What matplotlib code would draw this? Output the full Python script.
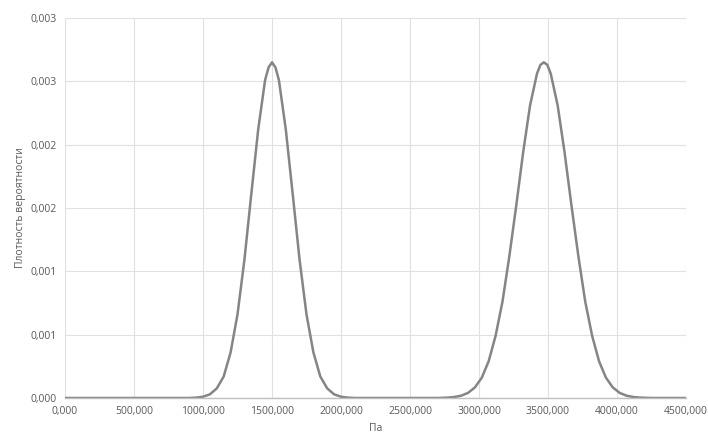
import matplotlib
matplotlib.use("Agg")
import matplotlib.pyplot as plt

# значения (Па -> плотность вероятности)
pa = [0, 500, 900, 950, 1000, 1050, 1100, 1150, 1200, 1250, 1300, 1350, 1400, 1450,
      1475, 1500, 1525, 1550, 1600, 1650, 1700, 1750, 1800, 1850, 1900, 1950, 2000,
      2050, 2100, 2500, 2700, 2770, 2820, 2870, 2920, 2970, 3020, 3070, 3120, 3170,
      3220, 3270, 3320, 3370, 3420, 3445, 3470, 3495, 3520, 3570, 3620, 3670, 3720,
      3770, 3820, 3870, 3920, 3970, 4020, 4070, 4120, 4170, 4250, 4500]
density = [0, 0, 0, 0.000003, 0.00001, 0.000029, 0.000076, 0.00017, 0.00036, 0.00066,
           0.00109, 0.00161, 0.00212, 0.00251, 0.00261, 0.00265, 0.00261, 0.00251,
           0.00212, 0.00161, 0.00109, 0.00066, 0.00036, 0.00017, 0.000076, 0.000029,
           0.00001, 0.000003, 0, 0, 0, 0.000003, 0.0000076, 0.000018, 0.00004, 0.000083,
           0.00016, 0.00029, 0.00049, 0.00076, 0.00112, 0.00152, 0.00194, 0.00231,
           0.00256, 0.00263, 0.00265, 0.00263, 0.00256, 0.00231, 0.00194, 0.00152,
           0.00112, 0.00076, 0.00049, 0.00029, 0.00016, 0.000083, 0.00004, 0.000018,
           0.0000076, 0.000003, 0, 0]

x_ticks = [0, 500, 1000, 1500, 2000, 2500, 3000, 3500, 4000, 4500]
x_labels = ["0,000", "500,000", "1000,000", "1500,000", "2000,000", "2500,000",
            "3000,000", "3500,000", "4000,000", "4500,000"]
y_ticks = [0, 0.0005, 0.001, 0.0015, 0.002, 0.0025, 0.003]
y_labels = ["0,000", "0,001", "0,001", "0,002", "0,002", "0,003", "0,003"]

plt.rcParams["font.family"] = ["Open Sans", "DejaVu Sans"]

fig = plt.figure(figsize=(7.08, 4.36), dpi=100)
ax = fig.add_axes([65 / 708, 1 - 398 / 436, (686 - 65) / 708, (398 - 18) / 436])

ax.plot(pa, density, color="#858585", lw=1.8, solid_capstyle="round")

ax.set_xlim(0, 4500)
ax.set_ylim(0, 0.003)
ax.set_xticks(x_ticks)
ax.set_xticklabels(x_labels)
ax.set_yticks(y_ticks)
ax.set_yticklabels(y_labels)

ax.grid(True, color="#e0e0e0", lw=0.8)
ax.set_axisbelow(True)
for side in ["top", "right", "left"]:
    ax.spines[side].set_visible(False)
ax.spines["bottom"].set_color("#bfbfbf")
ax.spines["bottom"].set_linewidth(1.0)
ax.tick_params(length=0, labelsize=7.5, colors="#595959", pad=6)

ax.set_xlabel("Па", fontsize=7.5, color="#595959", labelpad=4)
ax.set_ylabel("Плотность вероятности", fontsize=7.5, color="#595959", labelpad=3)

fig.savefig("out.png", dpi=100, facecolor="white")
